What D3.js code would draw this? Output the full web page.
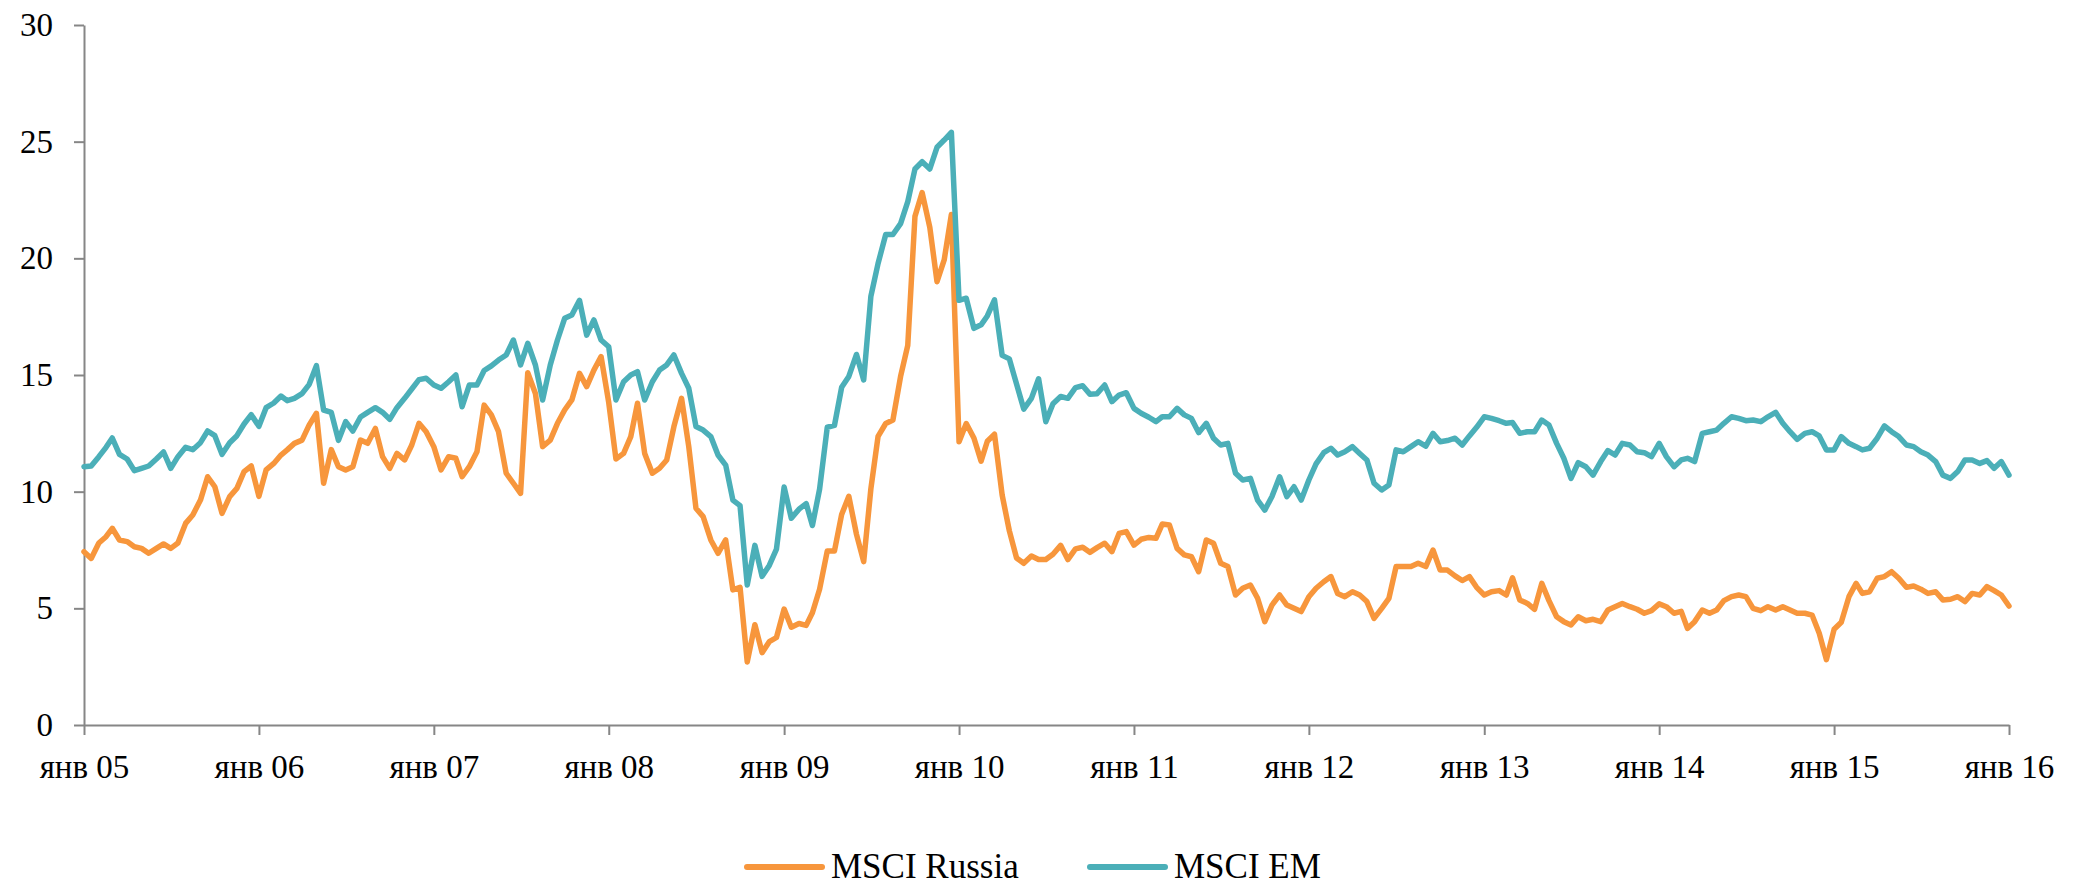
<!DOCTYPE html>
<html lang="ru">
<head>
<meta charset="utf-8">
<title>MSCI Russia vs MSCI EM</title>
<script src="https://cdn.jsdelivr.net/npm/d3@7"></script>
<style>
  html, body { margin: 0; padding: 0; background: #fff; }
  svg { display: block; }
  .axis path, .axis line { stroke: #868686; stroke-width: 2; }
  .axis text { font-family: "Palatino Linotype", "Book Antiqua", Palatino, "Liberation Serif", serif; font-size: 33px; fill: #000; }
  .legend text { font-family: "Palatino Linotype", "Book Antiqua", Palatino, "Liberation Serif", serif; font-size: 35px; fill: #000; }
</style>
</head>
<body>
<script>
// semi-monthly readings, one row per year (1st and 16th of each month), last value = jan 2016
var russia = [
  7.43, 7.14, 7.8, 8.07, 8.43, 7.93, 7.86, 7.64, 7.57, 7.36, 7.57, 7.76, 7.57, 7.8, 8.64, 9.0, 9.64, 10.64, 10.21, 9.07, 9.79, 10.14, 10.86, 11.1,
  9.8, 10.93, 11.21, 11.57, 11.79, 12.07, 12.21, 12.86, 13.36, 10.36, 11.8, 11.07, 10.93, 11.07, 12.21, 12.07, 12.71, 11.5, 11.0, 11.64, 11.36, 12.0, 12.93, 12.57,
  11.93, 10.93, 11.5, 11.43, 10.64, 11.07, 11.71, 13.71, 13.29, 12.57, 10.79, 10.36, 9.93, 15.1, 14.21, 11.93, 12.21, 12.93, 13.5, 13.93, 15.07, 14.5, 15.21, 15.79,
  13.82, 11.4, 11.64, 12.36, 13.79, 11.64, 10.79, 11.0, 11.36, 12.79, 14.0, 11.93, 9.29, 8.93, 7.93, 7.36, 7.93, 5.79, 5.9, 2.7, 4.3, 3.1, 3.57, 3.75,
  4.97, 4.19, 4.35, 4.27, 4.81, 5.82, 7.46, 7.46, 9.02, 9.8, 8.17, 7.0, 10.12, 12.37, 12.92, 13.07, 14.94, 16.27, 21.8, 22.82, 21.33, 19.0, 19.93, 21.88,
  12.14, 12.92, 12.3, 11.31, 12.16, 12.46, 9.85, 8.32, 7.16, 6.93, 7.24, 7.09, 7.09, 7.32, 7.7, 7.09, 7.55, 7.62, 7.4, 7.6, 7.79, 7.43, 8.21, 8.29,
  7.71, 7.96, 8.04, 8.0, 8.61, 8.57, 7.57, 7.29, 7.21, 6.57, 7.93, 7.79, 6.93, 6.79, 5.57, 5.86, 6.0, 5.43, 4.43, 5.14, 5.57, 5.14, 5.0, 4.86,
  5.5, 5.86, 6.14, 6.36, 5.64, 5.5, 5.71, 5.57, 5.29, 4.57, 5.0, 5.43, 6.79, 6.79, 6.79, 6.93, 6.79, 7.5, 6.64, 6.64, 6.39, 6.19, 6.36, 5.9,
  5.57, 5.71, 5.76, 5.57, 6.31, 5.36, 5.21, 4.96, 6.07, 5.33, 4.64, 4.43, 4.29, 4.64, 4.47, 4.53, 4.43, 4.93, 5.07, 5.21, 5.07, 4.96, 4.79, 4.9,
  5.19, 5.07, 4.79, 4.87, 4.14, 4.43, 4.93, 4.79, 4.93, 5.33, 5.5, 5.57, 5.5, 5.0, 4.9, 5.07, 4.93, 5.07, 4.93, 4.79, 4.79, 4.71, 3.93, 2.8,
  4.1, 4.4, 5.5, 6.07, 5.64, 5.71, 6.29, 6.36, 6.57, 6.29, 5.9, 5.96, 5.82, 5.64, 5.71, 5.36, 5.39, 5.5, 5.29, 5.64, 5.57, 5.93, 5.76, 5.57,
  5.1
];
var em = [
  11.07, 11.1, 11.5, 11.9, 12.3, 11.6, 11.4, 10.9, 11.0, 11.1, 11.4, 11.7, 11.0, 11.5, 11.9, 11.8, 12.1, 12.6, 12.4, 11.6, 12.1, 12.4, 12.9, 13.3,
  12.8, 13.6, 13.8, 14.1, 13.9, 14.0, 14.2, 14.6, 15.4, 13.5, 13.4, 12.2, 13.0, 12.6, 13.2, 13.4, 13.6, 13.4, 13.1, 13.6, 14.0, 14.4, 14.8, 14.86,
  14.57, 14.43, 14.71, 15.0, 13.64, 14.57, 14.57, 15.19, 15.39, 15.64, 15.86, 16.5, 15.43, 16.36, 15.43, 13.93, 15.43, 16.5, 17.43, 17.57, 18.2, 16.71, 17.36, 16.5,
  16.21, 13.93, 14.71, 15.0, 15.14, 13.93, 14.71, 15.21, 15.43, 15.86, 15.07, 14.43, 12.79, 12.64, 12.36, 11.57, 11.14, 9.64, 9.4, 6.0, 7.7, 6.37, 6.84, 7.54,
  10.2, 8.86, 9.25, 9.49, 8.55, 10.11, 12.76, 12.84, 14.47, 14.94, 15.88, 14.79, 18.37, 19.78, 21.02, 21.02, 21.49, 22.43, 23.83, 24.14, 23.83, 24.76, 25.07, 25.4,
  18.2, 18.29, 17.0, 17.15, 17.53, 18.22, 15.84, 15.69, 14.61, 13.54, 14.0, 14.84, 13.0, 13.77, 14.08, 14.0, 14.46, 14.54, 14.18, 14.2, 14.57, 13.86, 14.14, 14.24,
  13.57, 13.36, 13.19, 13.0, 13.21, 13.21, 13.57, 13.29, 13.14, 12.53, 12.93, 12.29, 12.0, 12.07, 10.79, 10.5, 10.57, 9.64, 9.21, 9.79, 10.64, 9.79, 10.21, 9.64,
  10.5, 11.19, 11.67, 11.86, 11.57, 11.71, 11.93, 11.64, 11.36, 10.36, 10.07, 10.29, 11.79, 11.71, 11.93, 12.14, 11.95, 12.5, 12.14, 12.19, 12.29, 12.0, 12.39, 12.76,
  13.21, 13.14, 13.04, 12.93, 12.96, 12.5, 12.57, 12.57, 13.07, 12.86, 12.07, 11.43, 10.57, 11.24, 11.07, 10.71, 11.29, 11.76, 11.57, 12.07, 12.0, 11.71, 11.67, 11.5,
  12.07, 11.5, 11.07, 11.36, 11.43, 11.29, 12.5, 12.57, 12.64, 12.93, 13.21, 13.14, 13.04, 13.07, 13.0, 13.21, 13.4, 12.93, 12.57, 12.24, 12.5, 12.57, 12.39, 11.79,
  11.79, 12.36, 12.07, 11.93, 11.79, 11.86, 12.29, 12.82, 12.57, 12.36, 12.0, 11.93, 11.71, 11.57, 11.29, 10.71, 10.57, 10.86, 11.36, 11.36, 11.21, 11.33, 11.0, 11.29,
  10.71
];
var seriesNames = ["MSCI Russia", "MSCI EM"];
var seriesColors = ["#F7963C", "#4BAFB8"];
var yTicks = [0, 5, 10, 15, 20, 25, 30];
var xTickLabels = ["янв 05", "янв 06", "янв 07", "янв 08", "янв 09", "янв 10", "янв 11", "янв 12", "янв 13", "янв 14", "янв 15", "янв 16"];

// dates: 1st and 16th of every month from jan 2005
var dates = russia.map(function (v, i) {
  var m = Math.floor(i / 2);
  return new Date(2005, m, (i % 2) ? 16 : 1);
});

var W = 2085, H = 886;
var svg = d3.select("body").append("svg").attr("width", W).attr("height", H);

var x = d3.scaleTime().domain([new Date(2005, 0, 1), new Date(2016, 0, 1)]).range([84, 2009]);
var y = d3.scaleLinear().domain([0, 30]).range([725, 25]);

var xTicks = d3.timeYear.range(new Date(2005, 0, 1), new Date(2016, 0, 2));

svg.append("g").attr("class", "axis")
  .attr("transform", "translate(84,0)")
  .call(d3.axisLeft(y).tickValues(yTicks).tickSizeInner(10).tickSizeOuter(0).tickPadding(21).tickFormat(d3.format("d")));

svg.append("g").attr("class", "axis")
  .attr("transform", "translate(0,725)")
  .call(d3.axisBottom(x).tickValues(xTicks).tickSizeInner(10).tickSizeOuter(0).tickPadding(20)
    .tickFormat(function (d, i) { return xTickLabels[i]; }));

var line = d3.line()
  .x(function (d) { return x(d[0]); })
  .y(function (d) { return y(d[1]); });

[russia, em].forEach(function (vals, s) {
  svg.append("path")
    .datum(vals.map(function (v, i) { return [dates[i], v]; }))
    .attr("fill", "none")
    .attr("stroke", seriesColors[s])
    .attr("stroke-width", 5.5)
    .attr("stroke-linejoin", "round")
    .attr("stroke-linecap", "round")
    .attr("d", line);
});

// legend
var legend = svg.append("g").attr("class", "legend");
var legendX = [747, 1090];
seriesNames.forEach(function (name, i) {
  legend.append("line")
    .attr("x1", legendX[i]).attr("x2", legendX[i] + 75)
    .attr("y1", 867).attr("y2", 867)
    .attr("stroke", seriesColors[i]).attr("stroke-width", 6)
    .attr("stroke-linecap", "round");
  legend.append("text")
    .attr("x", legendX[i] + 84).attr("y", 878)
    .text(name);
});
</script>
</body>
</html>
